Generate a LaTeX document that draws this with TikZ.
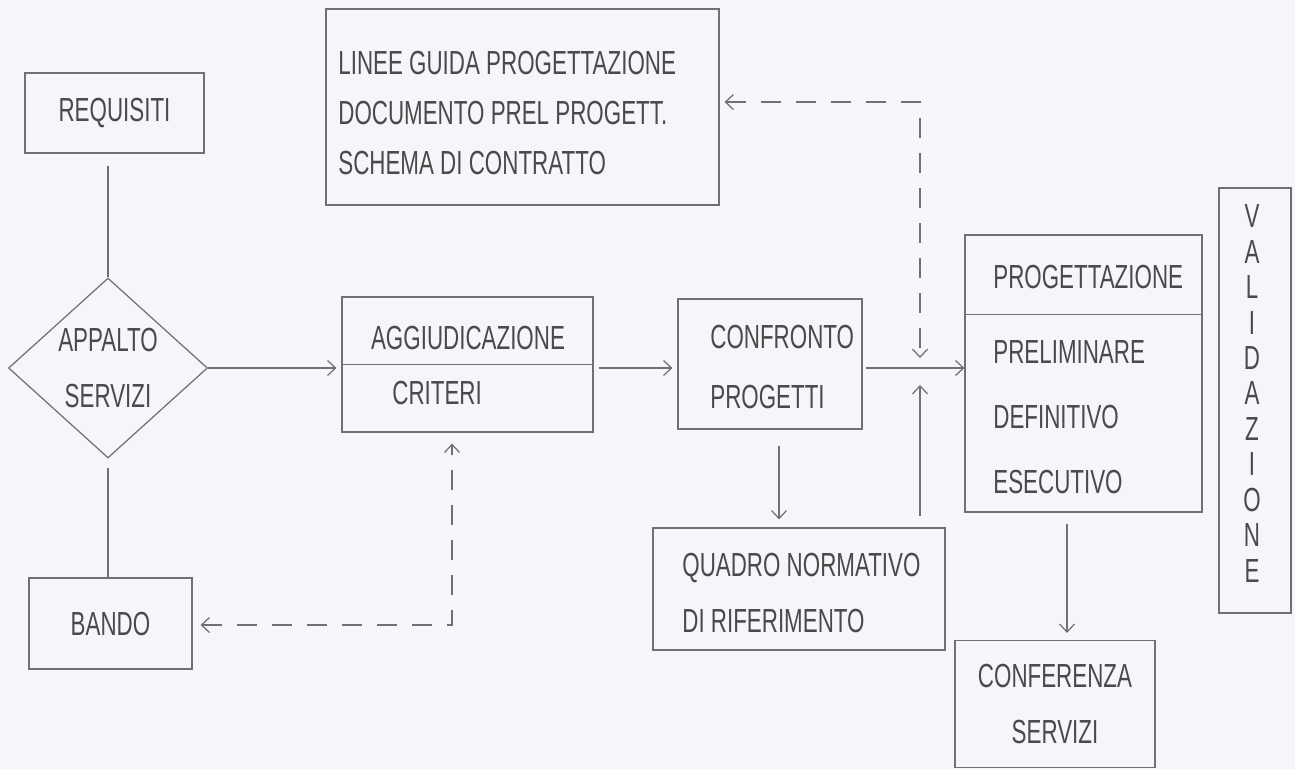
\documentclass[tikz,border=0pt]{standalone}
\usepackage{fontspec}
\newfontfamily\handfont[FakeStretch=0.67]{Liberation Sans}
\usetikzlibrary{calc,positioning,shapes.geometric,arrows.meta}
\definecolor{paper}{HTML}{F5F6FA}
\definecolor{pencil}{HTML}{707070}
\definecolor{ink}{HTML}{4A4A4A}

\begin{document}
\begin{tikzpicture}[x=0.02cm,y=-0.02cm,
	>={Straight Barb[length=0.16cm,width=0.3cm]},
	box/.style={draw=pencil,line width=0.7pt,inner sep=0pt,text=ink,font=\handfont\fontsize{19}{32}\selectfont},
	txt/.style={inner sep=0pt,text=ink,font=\handfont\fontsize{19}{32}\selectfont},
	link/.style={draw=pencil,line width=0.7pt},
	dashlink/.style={link,dash pattern=on 0.4cm off 0.3cm}
	]

	\fill[paper] (0,0) rectangle (1295,769);
	\useasboundingbox (0,0) rectangle (1295,769);

	% left column
	\node[box,minimum width=3.58cm,minimum height=1.6cm] (req) at (114.5,113) {REQUISITI};
	\node[box,diamond,minimum width=3.98cm,minimum height=3.6cm,align=center] (app) at (108,368) {APPALTO\\SERVIZI};
	\node[box,minimum width=3.26cm,minimum height=1.82cm] (bando) at (110.5,623.5) {BANDO};

	% guidelines
	\node[box,minimum width=7.86cm,minimum height=3.92cm] (linee) at (522.5,107) {};
	\node[txt,anchor=west,align=left,font=\handfont\fontsize{19}{28.5}\selectfont] (lineeT) at (338,113) {LINEE GUIDA PROGETTAZIONE\\DOCUMENTO PREL PROGETT.\\SCHEMA DI CONTRATTO};

	\node[box,minimum width=5.02cm,minimum height=2.7cm] (agg) at (467.5,364.5) {};
	\node[txt] (aggT) at (468,338) {AGGIUDICAZIONE};
	\node[txt,anchor=west] (criT) at (392,393) {CRITERI};

	\node[box,minimum width=3.68cm,minimum height=2.6cm] (conf) at (770,364) {};
	\node[txt,anchor=west,align=left,font=\handfont\fontsize{19}{34}\selectfont] (confT) at (710,367) {CONFRONTO\\PROGETTI};

	\node[box,minimum width=4.74cm,minimum height=5.54cm] (prog) at (1083.5,373.5) {};
	\node[txt,anchor=west] (progT) at (993,277) {PROGETTAZIONE};
	\node[txt,anchor=west,align=left,font=\handfont\fontsize{19}{37}\selectfont] (fasi) at (993,417) {PRELIMINARE\\DEFINITIVO\\ESECUTIVO};

	\node[box,minimum width=1.44cm,minimum height=8.5cm] (valid) at (1255,400.5) {};
	\node[txt,align=center,font=\handfont\fontsize{19}{20.2}\selectfont] (validT) at (1252,393.5) {V\\A\\L\\I\\D\\A\\Z\\I\\O\\N\\E};

	\node[box,minimum width=5.84cm,minimum height=2.44cm] (quadro) at (799,589) {};
	\node[txt,anchor=west,align=left] (quadroT) at (682,593) {QUADRO NORMATIVO\\DI RIFERIMENTO};

	\node[box,minimum width=4cm,minimum height=2.54cm,align=center] (confer) at (1055,704) {CONFERENZA\\SERVIZI};

	% dividers
	\draw[link] (agg.west) -- (agg.east);
	\draw[link] ([yshift=-1.6cm]prog.north west) -- ([yshift=-1.6cm]prog.north east);

	% connectors
	\draw[link,shorten <=0.24cm] (app.north |- req.south) -- (app.north);
	\draw[link,shorten <=0.18cm] (app.south) -- (app.south |- bando.north);
	\draw[link,->,shorten >=0.1cm] (app.east) -- (app.east -| agg.west);
	\draw[link,->,shorten <=0.1cm,shorten >=0.1cm] (agg.east |- app.east) -- (app.east -| conf.west);

	\coordinate (jn) at (920,368);
	\coordinate (dtop) at (920,102);
	\coordinate (dbot) at (452,625);

	\draw[link,->,shorten <=0.06cm] (conf.east |- jn) -- (jn -| prog.west);
	\draw[dashlink,<->,shorten <=0.1cm] (linee.east |- dtop) -| ([yshift=0.2cm]jn);
	\draw[link,->,shorten <=0.22cm] (quadro.north -| jn) -- ([yshift=-0.34cm]jn);
	\draw[link,->,shorten <=0.32cm,shorten >=0.16cm] ([xshift=0.18cm]conf.south) -- ([xshift=0.18cm]conf.south |- quadro.north);
	\draw[link,->,shorten <=0.22cm,shorten >=0.14cm] ([xshift=-0.33cm]prog.south) -- ([xshift=-0.33cm]prog.south |- confer.north);
	\draw[dashlink,<->,shorten <=0.16cm,shorten >=0.22cm] (bando.east |- dbot) -| (dbot |- agg.south);

\end{tikzpicture}
\end{document}
